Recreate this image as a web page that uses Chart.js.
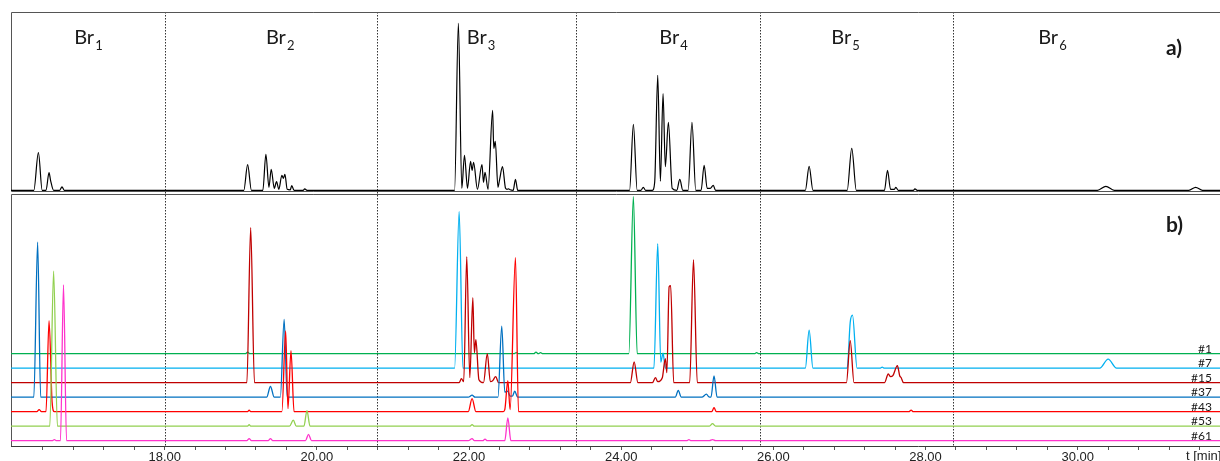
<!DOCTYPE html>
<html><head><meta charset="utf-8">
<script src="https://cdn.jsdelivr.net/npm/chart.js@4.4.0/dist/chart.umd.min.js"></script>
<style>html,body{margin:0;padding:0;background:#fff;}#wrap{width:1220px;height:461px;}</style>
</head><body><div id="wrap"><canvas id="c" width="1220" height="461"></canvas></div>
<script>
// ---------- data ----------
// x-axis ticks (retention time, min)
const tickValues = [16.4,16.8,17.2,17.6,18,18.4,18.8,19.2,19.6,20,20.4,20.8,21.2,21.6,22,22.4,22.8,23.2,23.6,24,24.4,24.8,25.2,25.6,26,26.4,26.8,27.2,27.6,28,28.4,28.8,29.2,29.6,30,30.4,30.8,31.2,31.6];
const majorTickValues = [18,20,22,24,26,28,30];
const tickLabels = ['18.00','20.00','22.00','24.00','26.00','28.00','30.00'];

// bromination groups (categories)
const groupNames = ['Br','Br','Br','Br','Br','Br'];
const groupSubscripts = ['1','2','3','4','5','6'];
const groupLabelTimes = [16.81,19.33,21.97,24.50,26.76,29.48];
const dividerTimes = [18.01,20.79,23.40,25.82,28.36];

// panel a) total trace
const timeA = [15.98,16.28,16.34,16.39,16.44,16.48,16.50,16.54,16.62,16.65,16.68,
 19.04,19.09,19.14,19.29,19.33,19.37,19.40,19.44,19.47,19.50,19.54,19.56,19.58,19.61,19.65,19.67,19.70,19.82,19.84,19.87,
 21.81,21.86,21.905,21.94,21.98,22.02,22.04,22.06,22.11,22.17,22.19,22.21,22.25,22.31,22.325,22.345,22.38,22.40,22.44,22.48,22.50,22.52,22.54,22.58,22.61,22.64,
 24.11,24.16,24.21,24.26,24.29,24.32,24.41,24.44,24.48,24.515,24.55,24.58,24.62,24.67,24.73,24.77,24.81,24.88,24.93,24.98,25.05,25.09,25.13,25.17,25.21,25.24,
 26.42,26.47,26.52,26.97,27.03,27.09,27.46,27.50,27.54,27.59,27.61,27.64,27.84,27.86,27.89,
 30.26,30.37,30.48,31.46,31.55,31.64,31.87];
const intensityA = [0,0,37.6,0,0,17.6,10,0,0,3.5,0,
 0,25.6,0,0,36,3,21,2,8.6,1,15,12,16,1,0.5,4.6,0,0,1.5,0,
 0,167,2,35,2,29,20,28,1,25.6,8,18,1,80,42,49,3,10,23.6,2,1,1.5,0.5,0,11,0,
 0,66,0,0,3,0,0,8,115,9,96.6,23.6,68,2,0,11,0,0,68,0,0,25,2,2,5,0,
 0,24,0,0,42,0,0,20,1,1,3,0,0,1.5,0,
 0,4,0,0,3,0,0];

// panel b) individual samples
const sampleNames = ['#1','#7','#15','#37','#43','#53','#61'];
const t1 = [15.98,19.06,19.09,19.12,22.59,22.62,22.65,22.85,22.88,22.91,22.94,22.97,24.10,24.16,24.21,25.75,25.78,25.81,31.87];
const y1 = [0,0,1.5,0,0,1,0,0,1.5,0,1,0,0,157,0,0,1,0,0];
const t7 = [15.98,21.81,21.87,21.92,24.43,24.48,24.52,24.55,24.58,26.42,26.47,26.52,26.97,27.01,27.04,27.10,27.40,27.43,27.46,30.29,30.40,30.51,31.87];
const y7 = [0,0,156.6,0,0,124.6,6,15,0,0,38,0,0,46,53,0,0,1,0,0,9,0,0];
const t15 = [15.98,19.08,19.13,19.18,21.87,21.90,21.93,21.97,22.01,22.05,22.07,22.09,22.13,22.19,22.24,22.28,22.31,22.35,22.39,24.12,24.17,24.22,24.41,24.45,24.48,24.54,24.58,24.60,24.63,24.65,24.69,24.90,24.95,25.00,26.96,27.01,27.06,27.46,27.51,27.54,27.57,27.63,27.66,27.68,27.71,31.87];
const y15 = [0,0,155,0,0,4,1,126,5,85,30,43,3,0,29,1,2,6,0,0,20.7,0,0,5,1,5,24,10,96,97,0,0,123,0,0,42,0,0,8.7,6,7,17,7,5,0,0];
const t37 = [15.98,16.28,16.33,16.37,19.34,19.39,19.44,19.52,19.57,19.61,21.99,22.04,22.08,22.38,22.43,22.47,22.51,22.54,22.57,22.60,22.64,24.71,24.75,24.79,25.06,25.12,25.15,25.18,25.22,25.26,31.87];
const y37 = [0,0,155,0,0,10.7,0,0,77.7,0,0,2,0,0,71,5,6,1,1,6,0,0,6.7,0,0,3,0.5,0,21.3,0,0];
const t43 = [15.98,16.32,16.35,16.38,16.44,16.48,16.52,16.55,19.09,19.11,19.13,19.54,19.59,19.62,19.66,19.70,21.99,22.04,22.09,22.45,22.47,22.51,22.54,22.61,22.65,25.19,25.22,25.25,27.78,27.81,27.84,31.87];
const y43 = [0,0,2,0,0,91,10,0,0,1.5,0,0,80.7,3,61,0,0,13,0,0,2,31,2,154,0,0,4,0,0,1.5,0,0];
const t53 = [15.98,16.49,16.54,16.59,19.09,19.11,19.13,19.64,19.69,19.73,19.83,19.87,19.91,22.01,22.04,22.07,25.16,25.20,25.24,31.87];
const y53 = [0,0,155,0,0,1.5,0,0,6,0,0,15.6,0,0,1.5,0,0,2.5,0,0];
const t61 = [15.98,16.52,16.55,16.58,16.63,16.67,16.71,19.08,19.11,19.14,19.36,19.39,19.42,19.85,19.89,19.93,21.99,22.04,22.07,22.18,22.21,22.24,22.47,22.51,22.55,24.86,24.89,24.92,25.16,25.20,25.24,31.87];
const y61 = [0,0,1,0,0,155.7,0,0,2,0,0,2,0,0,6.3,0,0,2,0,0,1.5,0,0,22.7,0,0,1,0,0,1,0,0];

// ---------- presentation ----------
const sampleTimes = [t1,t7,t15,t37,t43,t53,t61];
const sampleValues = [y1,y7,y15,y37,y43,y53,y61];
const traceOffsets = [92.3,77.8,63.3,48.8,34.3,19.8,5.3];
const sampleColors = ['#00B050','#00B0F0','#C00000','#0070C0','#FF0000','#92D050','#FF33CC'];

const zip = (ts, ys, off) => ts.map((t, i) => ({x: t, y: ys[i] + off}));

const datasets = [{
  label: 'total', data: zip(timeA, intensityA, 0), yAxisID: 'ya',
  borderColor: '#000', borderWidth: 1.2
}];
for (let i = sampleNames.length - 1; i >= 0; i--) {
  datasets.push({
    label: sampleNames[i], data: zip(sampleTimes[i], sampleValues[i], traceOffsets[i]),
    yAxisID: 'yb', borderColor: sampleColors[i], borderWidth: 1.3
  });
}

const framePlugin = {
  id: 'frames',
  beforeDatasetsDraw(chart) {
    const {ctx, chartArea} = chart;
    const xs = chart.scales.x, ya = chart.scales.ya, yb = chart.scales.yb;
    ctx.save();
    ctx.lineWidth = 1;
    ctx.strokeStyle = '#333';
    ctx.setLineDash([1.5, 1.5]);
    dividerTimes.forEach(t => {
      const px = Math.round(xs.getPixelForValue(t)) + 0.5;
      ctx.beginPath(); ctx.moveTo(px, ya.top); ctx.lineTo(px, yb.bottom); ctx.stroke();
    });
    ctx.setLineDash([]);
    ctx.strokeStyle = '#555';
    const L = chartArea.left + 0.5, R = chartArea.right + 5;
    // panel a frame
    ctx.beginPath();
    ctx.moveTo(R, ya.top + 0.5); ctx.lineTo(L, ya.top + 0.5); ctx.lineTo(L, ya.bottom - 0.5); ctx.lineTo(R, ya.bottom - 0.5);
    ctx.stroke();
    // panel b frame (top + left)
    ctx.beginPath();
    ctx.moveTo(R, yb.top + 2.5); ctx.lineTo(L, yb.top + 2.5); ctx.lineTo(L, yb.bottom);
    ctx.stroke();
    ctx.restore();
  },
  afterDatasetsDraw(chart) {
    const {ctx, chartArea} = chart;
    const xs = chart.scales.x, yb = chart.scales.yb;
    ctx.save();
    ctx.fillStyle = '#1a1a1a';
    // group labels
    groupNames.forEach((name, i) => {
      const x = xs.getPixelForValue(groupLabelTimes[i]);
      ctx.font = '20px Lato';
      ctx.textBaseline = 'alphabetic'; ctx.textAlign = 'left';
      ctx.fillText(name, x, 44);
      const w = ctx.measureText(name).width;
      ctx.font = '13px Lato';
      ctx.fillText(groupSubscripts[i], x + w + 1, 50);
    });
    // panel tags
    ctx.font = 'bold 21px Lato';
    ctx.fillText('a)', 1166, 55);
    ctx.fillText('b)', 1166, 232);
    // sample labels
    ctx.font = '12px Lato';
    ctx.textAlign = 'right';
    sampleNames.forEach((n, i) => {
      ctx.fillText(n, 1212, Math.round(yb.getPixelForValue(traceOffsets[i])) - 1);
    });
    // axis unit
    ctx.textAlign = 'left'; ctx.textBaseline = 'top';
    ctx.font = '13px "Liberation Sans", Arial, sans-serif';
    ctx.fillStyle = '#222';
    ctx.fillText('t [min]', 1186, chartArea.bottom + 4);
    ctx.restore();
  }
};

function build() {
  new Chart(document.getElementById('c'), {
    type: 'line',
    data: {datasets},
    options: {
      responsive: false, animation: false, devicePixelRatio: 1,
      layout: {padding: {left: 11, top: 12, right: 0, bottom: 0}},
      plugins: {legend: {display: false}, tooltip: {enabled: false}},
      elements: {point: {radius: 0}, line: {tension: 0, cubicInterpolationMode: 'monotone'}},
      scales: {
        x: {
          type: 'linear', position: 'bottom', min: 15.98, max: 31.87,
          afterBuildTicks: a => { a.ticks = tickValues.map(v => ({value: v})); },
          afterFit: a => { a.height = 15; },
          ticks: {
            autoSkip: false, maxRotation: 0, minRotation: 0, padding: 0, color: '#222',
            font: {family: '"Liberation Sans", Arial, sans-serif', size: 13},
            callback: v => { const i = majorTickValues.indexOf(v); return i >= 0 ? tickLabels[i] : ''; }
          },
          grid: {drawOnChartArea: false, drawTicks: true, tickLength: 4, color: '#555'},
          border: {display: true, color: '#3a3a3a', width: 1}
        },
        ya: {
          type: 'linear', position: 'left', stack: 'panels', stackWeight: 180, weight: 1,
          min: -1.7, max: 178.3,
          ticks: {display: false}, grid: {display: false}, border: {display: false},
          afterFit: a => { a.width = 0; }
        },
        yb: {
          type: 'linear', position: 'left', stack: 'panels', stackWeight: 254, weight: 0,
          min: 0, max: 254,
          ticks: {display: false}, grid: {display: false}, border: {display: false},
          afterFit: a => { a.width = 0; }
        }
      }
    },
    plugins: [framePlugin]
  });
}
if (document.fonts && document.fonts.load) {
  Promise.all([document.fonts.load('20px Lato'), document.fonts.load('bold 21px Lato'), document.fonts.load('13px "Liberation Sans"')]).then(build, build);
} else { build(); }
</script>
</body></html>
